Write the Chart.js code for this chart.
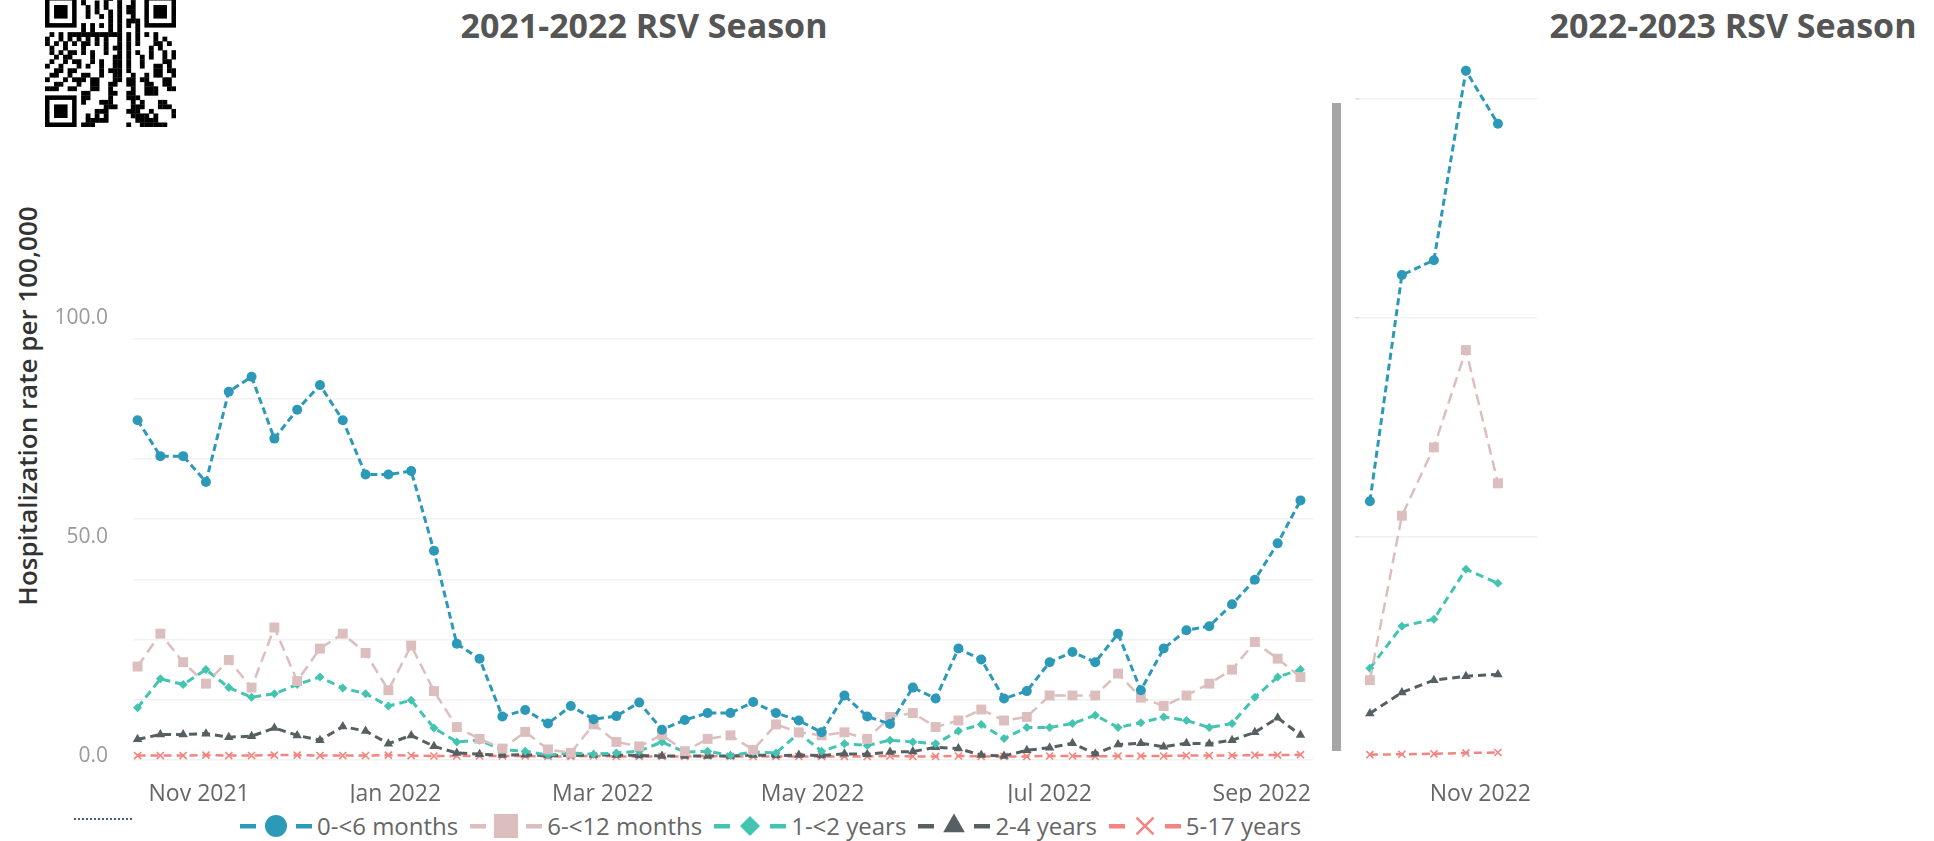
<!DOCTYPE html>
<html>
<head>
<meta charset="utf-8">
<title>RSV hospitalization rates by age group</title>
<script src="https://cdn.jsdelivr.net/npm/chart.js@4.4.0/dist/chart.umd.min.js"></script>
<style>
    body {
        margin: 0;
        width: 1934px;
        height: 841px;
        background: #fff;
        position: relative;
        overflow: hidden;
        font-family: 'Open Sans', 'Noto Sans', sans-serif;
    }
    .abs { position: absolute; }
    .season-title {
        width: 440px;
        text-align: center;
        font-size: 34px;
        font-weight: 700;
        color: #555;
        top: 2px;
        white-space: nowrap;
    }
    #yTitle {
        left: -193px;
        top: 389px;
        width: 440px;
        height: 34px;
        line-height: 34px;
        text-align: center;
        font-size: 26px;
        font-weight: 600;
        color: #333;
        transform: rotate(-90deg);
        white-space: nowrap;
    }
    #separator { left: 1332px; top: 103px; width: 9px; height: 648px; background: #a6a6a6; }
    #dotLine { left: 74px; top: 818px; width: 58px; border-top: 2px dotted #4d5d8a; }
    #legend {
        left: 240px;
        top: 811px;
        height: 30px;
        display: flex;
        align-items: center;
        white-space: nowrap;
    }
    #legend .item { display: flex; align-items: center; margin-right: 12px; }
    #legend .item span { margin-left: 5px; font-size: 24px; color: #666; line-height: 30px; }
</style>
</head>
<body>

<canvas id="qr" class="abs" width="131" height="131" style="left:45px; top:-4px;"></canvas>
<div id="title2122" class="abs season-title" style="left:424px;"></div>
<div id="title2223" class="abs season-title" style="left:1513px;"></div>
<div id="yTitle" class="abs">Hospitalization rate per 100,000</div>

<canvas id="chart2122" class="abs" width="1330" height="523" style="left:0; top:280px;"></canvas>
<div id="separator" class="abs"></div>
<canvas id="chart2223" class="abs" width="220" height="803" style="left:1340px; top:0;"></canvas>

<div id="dotLine" class="abs"></div>
<div id="legend" class="abs"></div>

<script>
// ---- DATA ----
const seasonTitles = ['2021-2022 RSV Season', '2022-2023 RSV Season'];
const ageGroups = ['0-<6 months', '6-<12 months', '1-<2 years', '2-4 years', '5-17 years'];

// 2021-22 season, weekly rate per 100,000 (52 weeks, week ending 2021-10-09 .. 2022-10-01)
const rate0to6m_2122 = [76.7, 68.5, 68.5, 62.6, 83.2, 86.6, 72.5, 79.1, 84.7, 76.7,
    64.3, 64.3, 65.1, 46.9, 25.7, 22.3, 9.1, 10.6, 7.5, 11.5,
    8.5, 9.2, 12.3, 6.1, 8.3, 9.9, 9.9, 12.4, 9.9, 8.2,
    5.5, 13.9, 9.1, 7.4, 15.7, 13.2, 24.6, 22.1, 13.2, 14.9,
    21.5, 23.8, 21.5, 28.0, 15.1, 24.6, 28.8, 29.7, 34.7, 40.3,
    48.6, 58.4];
const rate6to12m_2122 = [20.5, 28.0, 21.5, 16.6, 22.0, 15.7, 29.4, 17.2, 24.6, 28.0,
    23.6, 15.1, 25.3, 14.9, 6.7, 4.0, 1.8, 5.6, 1.6, 0.8,
    7.3, 3.3, 2.3, 4.9, 1.2, 4.0, 4.8, 1.5, 7.3, 5.5,
    4.8, 5.5, 4.0, 9.0, 9.9, 6.7, 8.2, 10.7, 8.2, 9.0,
    13.9, 13.9, 13.9, 18.9, 13.4, 11.5, 13.9, 16.6, 19.8, 26.1,
    22.3, 18.1];
const rate1to2y_2122 = [11.1, 17.7, 16.4, 19.8, 15.7, 13.5, 14.3, 16.4, 18.1, 15.6,
    14.3, 11.5, 12.8, 6.5, 3.3, 3.7, 1.5, 1.2, 0.3, 0.8,
    0.5, 0.8, 1.2, 3.3, 1.0, 1.2, 0.2, 1.0, 0.8, 5.3,
    1.2, 2.9, 2.5, 3.7, 3.3, 2.9, 5.8, 7.3, 4.1, 6.6,
    6.6, 7.5, 9.4, 6.6, 7.7, 9.0, 8.2, 6.6, 7.5, 13.5,
    18.1, 19.8];
const rate2to4y_2122 = [3.9, 5.0, 5.0, 5.2, 4.4, 4.6, 6.5, 4.8, 3.7, 6.8,
    5.8, 2.9, 4.8, 2.3, 0.8, 0.5, 0.3, 0.4, 0.2, 0.2,
    0.3, 0.3, 0.2, 0.1, 0.1, 0.1, 0.1, 0.3, 0.2, 0.3,
    0.2, 0.6, 0.5, 1.0, 1.1, 2.1, 1.8, 0.3, 0.1, 1.4,
    2.0, 3.0, 0.6, 2.7, 3.0, 2.2, 3.0, 2.9, 3.7, 5.5,
    8.8, 4.9];
const rate5to17y_2122 = [0.2, 0.2, 0.2, 0.3, 0.2, 0.2, 0.3, 0.3, 0.2, 0.2,
    0.2, 0.3, 0.2, 0.1, 0.1, 0.1, 0.1, 0.1, 0.0, 0.0,
    0.1, 0.0, 0.0, 0.0, 0.0, 0.1, 0.0, 0.0, 0.0, 0.0,
    0.0, 0.0, 0.0, 0.1, 0.0, 0.0, 0.1, 0.0, 0.0, 0.0,
    0.1, 0.1, 0.0, 0.1, 0.1, 0.1, 0.2, 0.2, 0.2, 0.3,
    0.3, 0.4];

// 2022-23 season so far (week ending 2022-10-08 .. 2022-11-05)
const rate0to6m_2223 = [58.2, 109.8, 113.2, 156.4, 144.3];
const rate6to12m_2223 = [17.4, 54.9, 70.5, 92.7, 62.3];
const rate1to2y_2223 = [20.1, 29.7, 31.3, 42.7, 39.5];
const rate2to4y_2223 = [9.8, 14.6, 17.4, 18.3, 18.7];
const rate5to17y_2223 = [0.4, 0.5, 0.6, 0.8, 0.9];

// month labels, placed by week number of the season
const monthLabels2122 = ['Nov 2021', 'Jan 2022', 'Mar 2022', 'May 2022', 'Jul 2022', 'Sep 2022'];
const monthWeeks2122 = [2.7, 11.3, 20.4, 29.6, 40.0, 49.3];
const monthLabels2223 = ['Nov 2022'];
const monthWeeks2223 = [3.45];

const yTickValues = [0, 50, 100];
const gridLevels2122 = [-0.8, 12.9, 26.6, 40.4, 54.2, 67.9, 81.6, 95.3];
const gridLevels2223 = [50, 100, 150];

// ---- SERIES STYLES ----
const seriesStyles = [
    { color: '#2c99b9', dash: [7, 4], width: 3, point: 'circle', radius: 5, legendRadius: 11 },
    { color: '#dcbebe', dash: [11, 6], width: 2.5, point: 'rect', radius: 7, legendRadius: 17 },
    { color: '#42c4b1', dash: [8, 5], width: 3, point: 'rectRot', radius: 4.5, legendRadius: 10 },
    { color: '#566063', dash: [8, 5], width: 3, point: 'triangle', radius: 5.5, legendRadius: 12.5 },
    { color: '#f4847f', dash: [8, 5], width: 2.5, point: 'crossRot', radius: 5, legendRadius: 12 }
];

Chart.defaults.font.family = "'Open Sans', 'Noto Sans', sans-serif";

function buildDatasets(seriesList) {
    return seriesList.map((values, i) => {
        const s = seriesStyles[i];
        return {
            label: ageGroups[i],
            data: values.map((v, week) => ({ x: week, y: v })),
            borderColor: s.color,
            backgroundColor: s.color,
            borderWidth: s.width,
            borderDash: s.dash,
            pointStyle: s.point,
            pointRadius: s.radius,
            pointBackgroundColor: s.color,
            pointBorderColor: s.color,
            pointBorderWidth: s.point === 'crossRot' ? 1.6 : 0,
            tension: 0,
            clip: false
        };
    });
}

// keep the chart area exactly where the layout padding puts it
function noAxisPadding(axis) {
    axis.paddingTop = 0;
    axis.paddingBottom = 0;
    axis.paddingLeft = 0;
    axis.paddingRight = 0;
}

function seasonOptions(cfg) {
    return {
        responsive: false,
        animation: false,
        events: [],
        layout: { padding: cfg.padding },
        plugins: { legend: { display: false }, tooltip: { enabled: false } },
        scales: {
            x: {
                type: 'linear',
                min: cfg.xMin,
                max: cfg.xMax,
                afterBuildTicks: axis => { axis.ticks = cfg.tickWeeks.map(v => ({ value: v })); },
                afterFit: axis => { axis.height = 40; noAxisPadding(axis); },
                grid: { display: false },
                border: { display: false },
                ticks: {
                    autoSkip: false,
                    maxRotation: 0,
                    padding: 10,
                    color: '#666',
                    font: { size: 23 },
                    callback: (v, i) => cfg.tickLabels[i]
                }
            },
            y: {
                position: 'left',
                min: -1.5,
                max: cfg.yMax,
                afterBuildTicks: axis => { axis.ticks = cfg.yTicks.map(v => ({ value: v })); },
                afterFit: axis => { axis.width = cfg.yWidth; noAxisPadding(axis); },
                grid: cfg.yGrid,
                border: { display: false },
                ticks: {
                    display: cfg.showYLabels,
                    padding: 17,
                    color: '#9a9a9a',
                    font: { size: 21 },
                    callback: v => v.toFixed(1)
                }
            },
            yg: {
                position: 'left',
                display: cfg.gridLevels.length > 0,
                min: -1.5,
                max: cfg.yMax,
                afterBuildTicks: axis => { axis.ticks = cfg.gridLevels.map(v => ({ value: v })); },
                afterFit: axis => { axis.width = 0; noAxisPadding(axis); },
                grid: { color: '#f1f1f1', lineWidth: 1.5, drawTicks: false },
                border: { display: false },
                ticks: { display: false }
            }
        }
    };
}

// ============================================================
// 2021-2022 SEASON
// ============================================================
new Chart(document.getElementById('chart2122'), {
    type: 'line',
    data: {
        datasets: buildDatasets([rate0to6m_2122, rate6to12m_2122, rate1to2y_2122, rate2to4y_2122, rate5to17y_2122])
    },
    options: seasonOptions({
        padding: { top: 20.5, right: 17, left: 0, bottom: 0 },
        xMin: -0.2, xMax: 51.55,
        tickWeeks: monthWeeks2122, tickLabels: monthLabels2122,
        yMax: 104, yWidth: 133,
        yTicks: yTickValues, showYLabels: true,
        yGrid: { display: false },
        gridLevels: gridLevels2122
    })
});

// ============================================================
// 2022-2023 SEASON
// ============================================================
new Chart(document.getElementById('chart2223'), {
    type: 'line',
    data: {
        datasets: buildDatasets([rate0to6m_2223, rate6to12m_2223, rate1to2y_2223, rate2to4y_2223, rate5to17y_2223])
    },
    options: seasonOptions({
        padding: { top: 55, right: 23, left: 0, bottom: 0 },
        xMin: -0.34, xMax: 5.22,
        tickWeeks: monthWeeks2223, tickLabels: monthLabels2223,
        yMax: 160, yWidth: 19,
        yTicks: gridLevels2223, showYLabels: false,
        yGrid: { color: '#f1f1f1', lineWidth: 1.5, drawTicks: true, tickLength: 4, tickColor: '#cfe5f3' },
        gridLevels: []
    })
});

// ---- TITLES ----
document.getElementById('title2122').textContent = seasonTitles[0];
document.getElementById('title2223').textContent = seasonTitles[1];

// ---- LEGEND (dash - marker - dash, like the report) ----
function buildLegend() {
    const box = document.getElementById('legend');
    seriesStyles.forEach((s, i) => {
        const item = document.createElement('div');
        item.className = 'item';
        const c = document.createElement('canvas');
        c.width = 72;
        c.height = 30;
        const ctx = c.getContext('2d');
        ctx.fillStyle = s.color;
        ctx.strokeStyle = s.color;
        ctx.fillRect(0, 13, 16, 4.5);
        ctx.fillRect(56, 13, 16, 4.5);
        ctx.lineWidth = 2.5;
        Chart.helpers.drawPoint(ctx, {
            pointStyle: s.point,
            radius: s.legendRadius,
            rotation: 0,
            borderWidth: s.point === 'crossRot' ? 2.5 : 0
        }, 36, 15);
        const label = document.createElement('span');
        label.textContent = ageGroups[i];
        item.appendChild(c);
        item.appendChild(label);
        box.appendChild(item);
    });
}
buildLegend();

// ---- QR CODE (decorative) ----
function drawQr() {
    const canvas = document.getElementById('qr');
    const ctx = canvas.getContext('2d');
    const n = 29;
    const cell = canvas.width / n;
    ctx.fillStyle = '#fff';
    ctx.fillRect(0, 0, canvas.width, canvas.height);
    ctx.fillStyle = '#000';
    const inFinder = (r, c) => (r < 8 && c < 8) || (r < 8 && c >= n - 8) || (r >= n - 8 && c < 8);
    for (let r = 0; r < n; r++) {
        for (let c = 0; c < n; c++) {
            if (inFinder(r, c)) continue;
            let on;
            if (r === 6 || c === 6) on = (r + c) % 2 === 0;
            else on = (Math.imul(r * 31 + c * 17 + r * c, 2654435761) >>> 0) % 7 < 3;
            if (on) ctx.fillRect(c * cell, r * cell, cell + 0.3, cell + 0.3);
        }
    }
    [[0, 0], [0, n - 7], [n - 7, 0]].forEach(([r, c]) => {
        ctx.fillStyle = '#000';
        ctx.fillRect(c * cell, r * cell, 7 * cell, 7 * cell);
        ctx.fillStyle = '#fff';
        ctx.fillRect((c + 1) * cell, (r + 1) * cell, 5 * cell, 5 * cell);
        ctx.fillStyle = '#000';
        ctx.fillRect((c + 2) * cell, (r + 2) * cell, 3 * cell, 3 * cell);
    });
}
drawQr();
</script>
</body>
</html>
